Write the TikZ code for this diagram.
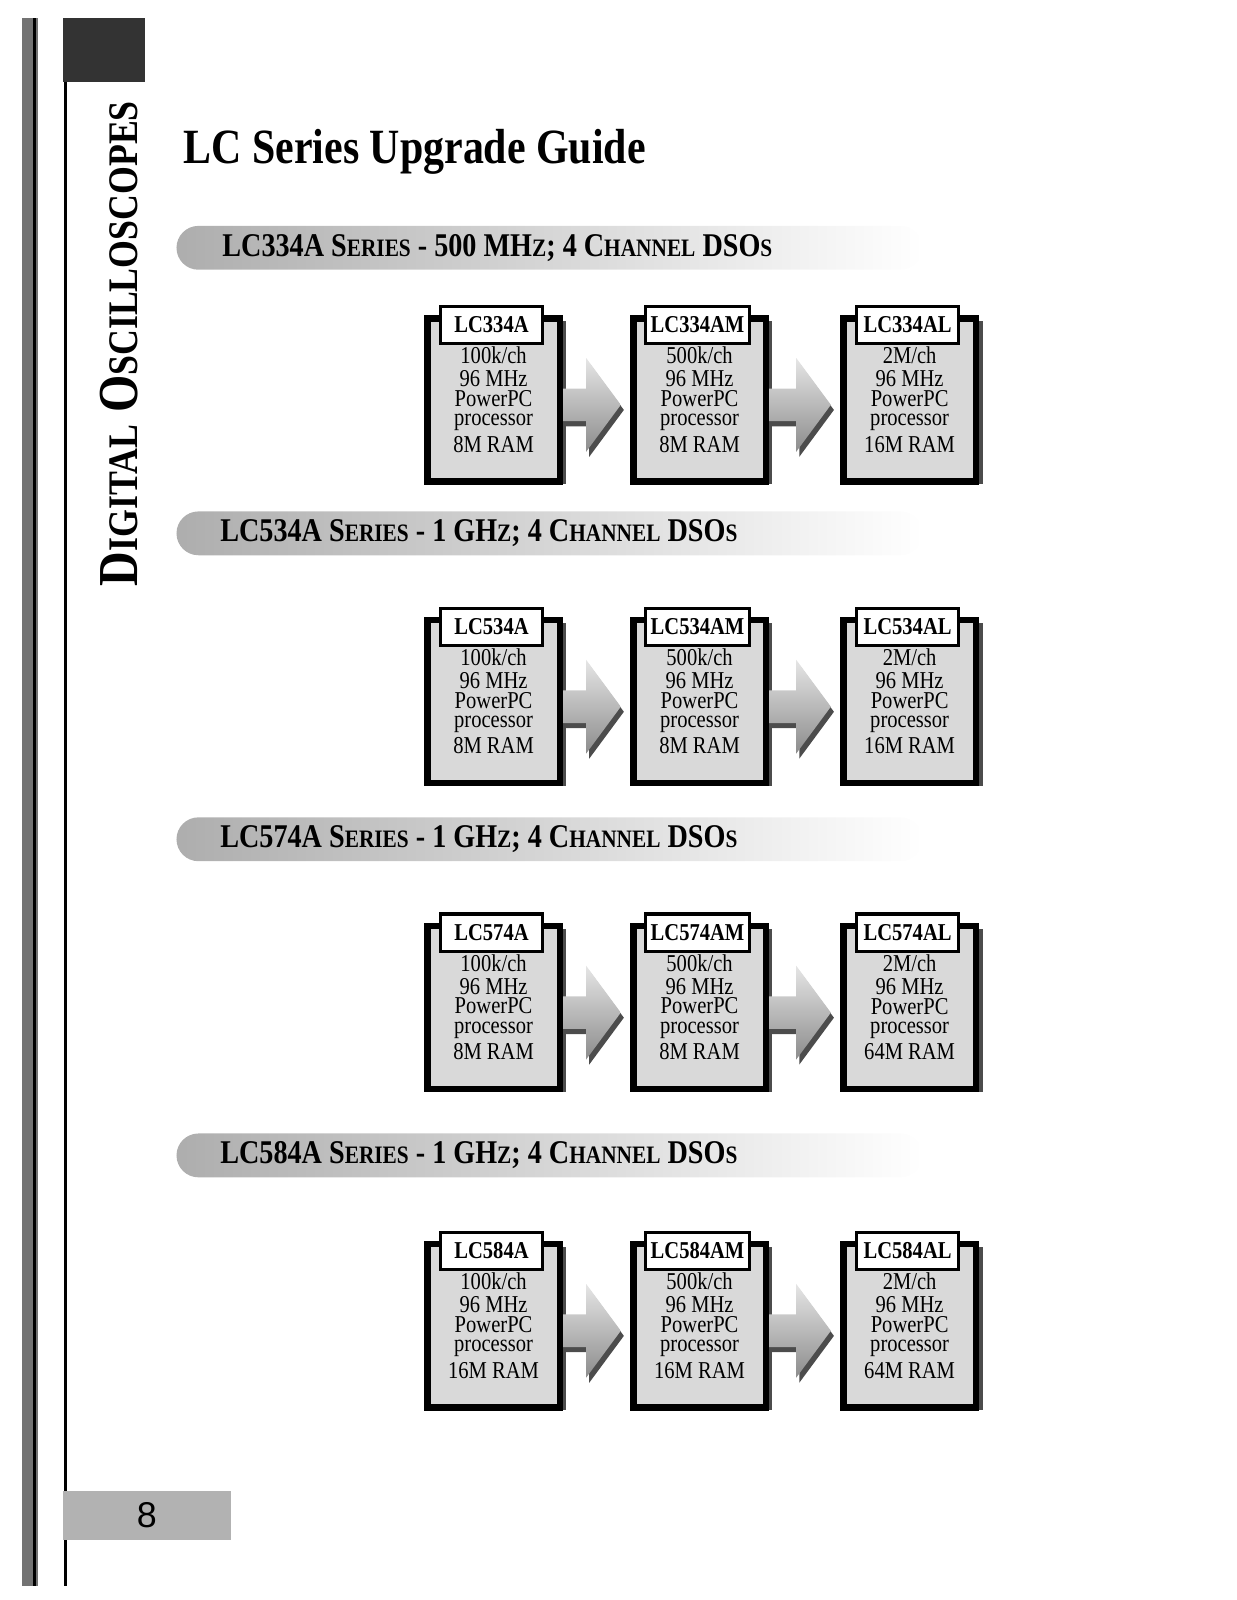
\documentclass[tikz,border=0pt]{standalone}
\usepackage{fontspec}
\setmainfont{Liberation Serif}[FakeStretch=0.85]
\setsansfont{Liberation Sans}
\usetikzlibrary{calc,shadows}

\newcommand{\hsc}[1]{{\fontsize{14}{14}\selectfont #1}}
\newcommand{\vsc}[1]{{\fontsize{23.5}{23.5}\selectfont #1}}
\newcommand{\specs}[2]{#1\\[2pt]96 MHz\\PowerPC\\processor\\[2pt]#2}
\newcommand{\upgrade}[2]{%
  \coordinate (s) at ($(#1.east)+(0,5)$);
  \coordinate (t) at ($(#2.west)+(-9,5)$);
  \fill[upshadow] ($(s)+(3,-11)$) -- ($(t)+(-31,-11)$) -- ($(t)+(-31,-41)$) -- ($(t)+(3,5)$)
    -- ($(t)+(-31,51)$) -- ($(t)+(-31,21)$) -- ($(s)+(3,21)$) -- cycle;
  \shade[upbody] ($(s)+(0,-16)$) -- ($(t)+(-34,-16)$) -- ($(t)+(-34,-46)$) -- (t)
    -- ($(t)+(-34,46)$) -- ($(t)+(-34,16)$) -- ($(s)+(0,16)$) -- cycle;
}

\begin{document}
\begin{tikzpicture}[x=0.02cm,y=-0.02cm]
\tikzstyle{unitbox}=[draw=black,line width=0.13cm,fill=black!15,minimum width=2.6cm,minimum height=3.2cm,inner sep=0pt,align=center,font=\fontsize{13.5}{10.8}\selectfont,drop shadow={shadow xshift=0.13cm,shadow yshift=-0.06cm,fill=black,opacity=0.7}]
\tikzstyle{unittag}=[draw=black,line width=0.06cm,fill=white,minimum width=2.0cm,minimum height=0.74cm,inner sep=3pt,font=\fontsize{13.5}{13.5}\selectfont\bfseries]
\tikzstyle{band}=[rounded corners=0.43cm,left color=black!32,middle color=black!24,right color=white,minimum width=14.64cm,minimum height=0.86cm,inner sep=0pt]
\tikzstyle{bandtext}=[anchor=west,inner sep=0pt,font=\fontsize{18.5}{18.5}\selectfont\bfseries]
\tikzstyle{upshadow}=[fill=black!70]
\tikzstyle{upbody}=[top color=black!10,bottom color=black!45]
\tikzstyle{pagenum}=[fill=black!30,minimum width=3.3cm,minimum height=0.96cm,inner sep=0pt,font=\sffamily\fontsize{20}{20}\selectfont]
\useasboundingbox (0,0) rectangle (1213,1569);
% page edge and tab
\fill[black!55] (22,18) rectangle (37,1555);
\fill[black] (32,18) rectangle (35,1555);
\fill[black!80] (62,18) rectangle (142,80);
\draw[line width=0.05cm] (64,80) -- (64,1555);
\node[rotate=90,inner sep=0pt,font=\fontsize{31.5}{31.5}\selectfont\bfseries] (side) at (117,337) {D\vsc{IGITAL} O\vsc{SCILLOSCOPES}};
\node[pagenum] (page) at (144,1486) {8};
\node[anchor=west,inner sep=0pt,font=\fontsize{27.5}{27.5}\selectfont\bfseries] (title) at (180,149) {LC Series Upgrade Guide};
% series headers
\node[band] (s334) at (539,243) {};
\node[bandtext] (h334) at ($(s334.west)+(45,0)$) {LC334A S\hsc{ERIES} - 500 MH\hsc{Z}; 4 C\hsc{HANNEL} DSO\hsc{S}};
\node[band] (s534) at (539,523) {};
\node[bandtext] (h534) at ($(s534.west)+(43,0)$) {LC534A S\hsc{ERIES} - 1 GH\hsc{Z}; 4 C\hsc{HANNEL} DSO\hsc{S}};
\node[band] (s574) at (539,823) {};
\node[bandtext] (h574) at ($(s574.west)+(43,0)$) {LC574A S\hsc{ERIES} - 1 GH\hsc{Z}; 4 C\hsc{HANNEL} DSO\hsc{S}};
\node[band] (s584) at (539,1133) {};
\node[bandtext] (h584) at ($(s584.west)+(43,0)$) {LC584A S\hsc{ERIES} - 1 GH\hsc{Z}; 4 C\hsc{HANNEL} DSO\hsc{S}};
% LC334A row
\node[unitbox] (b334a) at (484,392) {\specs{100k/ch}{8M RAM}};
\node[unitbox] (b334am) at (686,392) {\specs{500k/ch}{8M RAM}};
\node[unitbox] (b334al) at (892,392) {\specs{2M/ch}{16M RAM}};
\upgrade{b334a}{b334am}
\upgrade{b334am}{b334al}
\node[unittag] (n334a) at ($(b334a.north)+(-2,10)$) {LC334A};
\node[unittag] (n334am) at ($(b334am.north)+(-2,10)$) {LC334AM};
\node[unittag] (n334al) at ($(b334al.north)+(-2,10)$) {LC334AL};
% LC534A row
\node[unitbox] (b534a) at (484,688) {\specs{100k/ch}{8M RAM}};
\node[unitbox] (b534am) at (686,688) {\specs{500k/ch}{8M RAM}};
\node[unitbox] (b534al) at (892,688) {\specs{2M/ch}{16M RAM}};
\upgrade{b534a}{b534am}
\upgrade{b534am}{b534al}
\node[unittag] (n534a) at ($(b534a.north)+(-2,10)$) {LC534A};
\node[unittag] (n534am) at ($(b534am.north)+(-2,10)$) {LC534AM};
\node[unittag] (n534al) at ($(b534al.north)+(-2,10)$) {LC534AL};
% LC574A row
\node[unitbox] (b574a) at (484,988) {\specs{100k/ch}{8M RAM}};
\node[unitbox] (b574am) at (686,988) {\specs{500k/ch}{8M RAM}};
\node[unitbox] (b574al) at (892,988) {\specs{2M/ch}{64M RAM}};
\upgrade{b574a}{b574am}
\upgrade{b574am}{b574al}
\node[unittag] (n574a) at ($(b574a.north)+(-2,10)$) {LC574A};
\node[unittag] (n574am) at ($(b574am.north)+(-2,10)$) {LC574AM};
\node[unittag] (n574al) at ($(b574al.north)+(-2,10)$) {LC574AL};
% LC584A row
\node[unitbox] (b584a) at (484,1300) {\specs{100k/ch}{16M RAM}};
\node[unitbox] (b584am) at (686,1300) {\specs{500k/ch}{16M RAM}};
\node[unitbox] (b584al) at (892,1300) {\specs{2M/ch}{64M RAM}};
\upgrade{b584a}{b584am}
\upgrade{b584am}{b584al}
\node[unittag] (n584a) at ($(b584a.north)+(-2,10)$) {LC584A};
\node[unittag] (n584am) at ($(b584am.north)+(-2,10)$) {LC584AM};
\node[unittag] (n584al) at ($(b584al.north)+(-2,10)$) {LC584AL};
\end{tikzpicture}
\end{document}
